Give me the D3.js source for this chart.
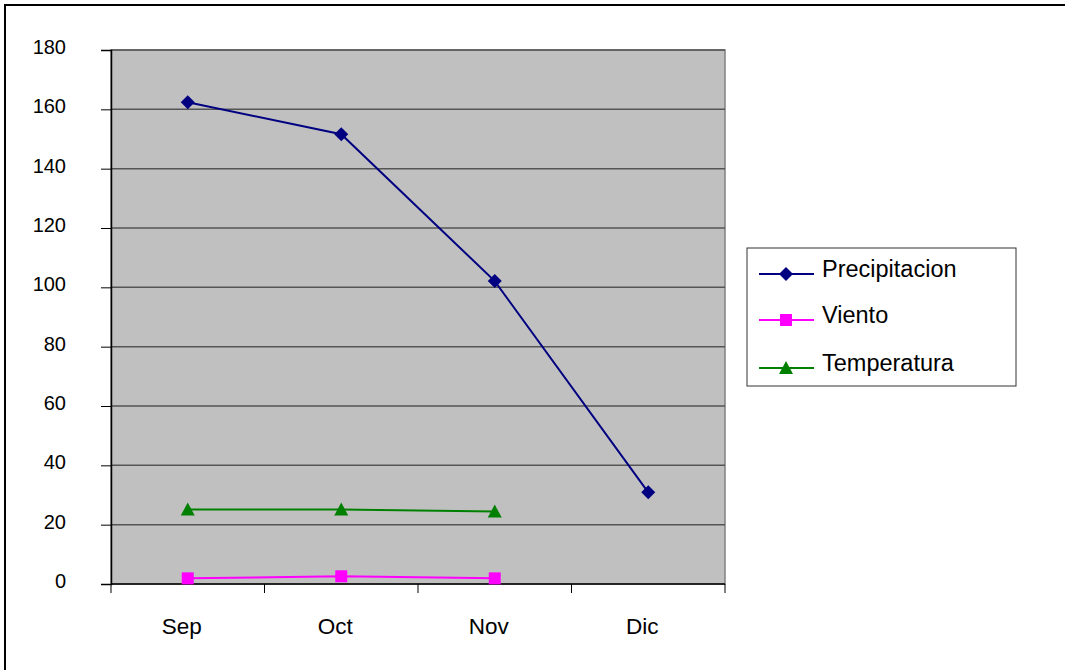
<!DOCTYPE html>
<html><head><meta charset="utf-8">
<script src="https://cdn.jsdelivr.net/npm/d3@7"></script>
<style>body{margin:0;background:#fff}svg{display:block;font-family:"Liberation Sans",Arial,sans-serif}</style>
</head><body><svg id="c" width="1065" height="670"></svg>
<script>
const categories = ["Sep","Oct","Nov","Dic"];
const precipitacion = [162.4, 151.6, 102.1, 30.9];
const viento = [1.9, 2.6, 1.9, null];
const temperatura = [25.1, 25.1, 24.4, null];
const yTicks = [0,20,40,60,80,100,120,140,160,180];
const seriesNames = ["Precipitacion","Viento","Temperatura"];

const svg = d3.select("#c");
const L=111, R=725, T=50, B=584;
const x = d3.scaleBand().domain(categories).range([L,R]);
const y = d3.scaleLinear().domain([0,180]).range([B,T]);

svg.append("rect").attr("x",5).attr("y",5).attr("width",1200).attr("height",800)
  .attr("fill","none").attr("stroke","#000").attr("stroke-width",2);

svg.append("rect").attr("x",L).attr("y",T).attr("width",R-L).attr("height",B-T)
  .attr("fill","#C0C0C0").attr("stroke","#808080").attr("stroke-width",1.5);

// gridlines
svg.append("g").selectAll("line").data(yTicks.filter(d=>d>0)).join("line")
  .attr("x1",L).attr("x2",R).attr("y1",d=>y(d)).attr("y2",d=>y(d))
  .attr("stroke","#555").attr("stroke-width",1.5);

// y axis
const yAxis = svg.append("g").attr("transform",`translate(${L},0)`)
  .call(d3.axisLeft(y).tickValues(yTicks).tickSize(10).tickPadding(35).tickFormat(d3.format("d")));
yAxis.select(".domain").attr("stroke","#000").attr("stroke-width",1.5);
yAxis.selectAll(".tick line").attr("stroke","#000");
yAxis.selectAll("text").attr("font-size",20).attr("fill","#000").attr("dy","0.18em")
  .attr("font-family","Liberation Sans, Arial, sans-serif");

// x axis
const xAxis = svg.append("g").attr("transform",`translate(0,${B})`)
  .call(d3.axisBottom(x).tickSize(0).tickPadding(0));
xAxis.select(".domain").remove();
xAxis.selectAll("text").attr("font-size",22.5).attr("fill","#000")
  .attr("y",50).attr("dy",0).attr("dx",-6)
  .attr("font-family","Liberation Sans, Arial, sans-serif");
svg.append("line").attr("x1",L).attr("x2",R).attr("y1",B).attr("y2",B).attr("stroke","#000").attr("stroke-width",1.5);
const bounds = categories.map(c=>x(c)).concat([x(categories[3])+x.bandwidth()]);
svg.append("g").selectAll("line").data(bounds).join("line")
  .attr("x1",d=>d).attr("x2",d=>d).attr("y1",B).attr("y2",B+9).attr("stroke","#000");

const cx = c => x(c)+x.bandwidth()/2;
const colors = ["#000080","#FF00FF","#008000"];
const data = [precipitacion, viento, temperatura];

function marker(g, type, color){
  if(type===0) g.append("path").attr("d","M0,-7L7,0L0,7L-7,0Z").attr("fill",color);
  else if(type===1) g.append("rect").attr("x",-6).attr("y",-6).attr("width",12).attr("height",12).attr("fill",color);
  else g.append("path").attr("d","M0,-7L7,6L-7,6Z").attr("fill",color);
}

data.forEach((vals,i)=>{
  const pts = categories.map((c,j)=>({c, v:vals[j]})).filter(p=>p.v!=null);
  svg.append("path").datum(pts)
    .attr("d", d3.line().x(p=>cx(p.c)).y(p=>y(p.v)))
    .attr("fill","none").attr("stroke",colors[i]).attr("stroke-width",2);
  pts.forEach(p=>{
    const g = svg.append("g").attr("transform",`translate(${cx(p.c)},${y(p.v)})`);
    marker(g,i,colors[i]);
  });
});

// legend
svg.append("rect").attr("x",747).attr("y",248).attr("width",269).attr("height",138)
  .attr("fill","#fff").attr("stroke","#333").attr("stroke-width",1);
const rowsY = [274,320,368];
seriesNames.forEach((n,i)=>{
  svg.append("line").attr("x1",759).attr("x2",814).attr("y1",rowsY[i]).attr("y2",rowsY[i])
    .attr("stroke",colors[i]).attr("stroke-width",2);
  const g = svg.append("g").attr("transform",`translate(786,${rowsY[i]})`);
  marker(g,i,colors[i]);
  svg.append("text").attr("x",822).attr("y",rowsY[i]+3).attr("font-size",23.5).attr("fill","#000").text(n);
});
</script></body></html>
